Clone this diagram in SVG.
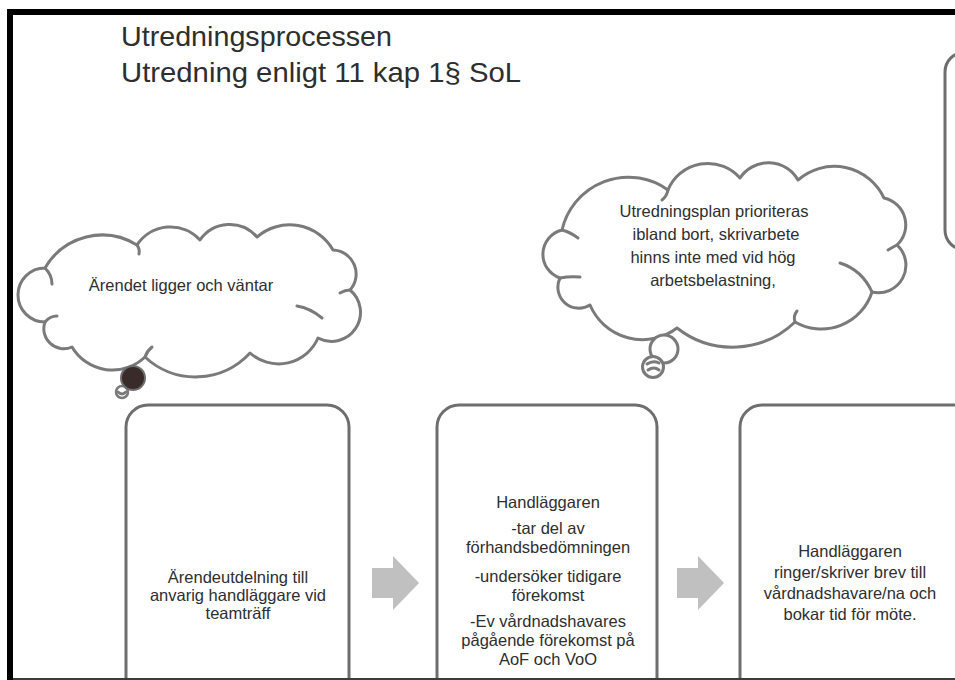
<svg xmlns="http://www.w3.org/2000/svg" width="955" height="680" viewBox="0 0 955 680">
<style>
  .title { font-family: "Liberation Sans", Arial, sans-serif; font-size: 28.5px; fill: #2e2e2e; }
  .txt { font-family: "Liberation Sans", Arial, sans-serif; font-size: 16.5px; fill: #2e2e2e; text-anchor: middle; }
  .cloud { fill: #ffffff; stroke: #7a7a7a; stroke-width: 3; stroke-linejoin: round; }
  .hook { fill: none; stroke: #7a7a7a; stroke-width: 3; stroke-linecap: round; }
  .box { fill: #ffffff; stroke: #6e6e6e; stroke-width: 3; }
  .arrow { fill: #c0c0c0; stroke: none; }
</style>
<rect x="0" y="0" width="955" height="680" fill="#ffffff"/>

<g id="title">
  <text class="title" x="121" y="46" textLength="271" lengthAdjust="spacingAndGlyphs">Utredningsprocessen</text>
  <text class="title" x="121" y="82" textLength="400" lengthAdjust="spacingAndGlyphs">Utredning enligt 11 kap 1§ SoL</text>
</g>

<g id="cloud1">
  <path class="cloud" d="M45 268 A66 66 0 0 1 137 245 A40 40 0 0 1 200 240 A36 36 0 0 1 257 237 A50 50 0 0 1 333 250 A24 24 0 0 1 350 290 A29 29 0 0 1 318 338 A43 43 0 0 1 250 353 A74 74 0 0 1 145 357 A47 47 0 0 1 72 347 A20 20 0 0 1 45 322 A27 27 0 0 1 45 268 Z"/>
  <path class="hook" d="M45 268 Q52 275 52 284"/>
  <path class="hook" d="M137 245 Q140 249 139 254"/>
  <path class="hook" d="M350 290 Q345 290 340 293"/>
  <path class="hook" d="M322 318 Q310 308 297 306"/>
  <path class="hook" d="M145 357 Q147 351 152 347"/>
  <path class="hook" d="M45 322 Q50 316 57 316"/>
  <text class="txt" x="181" y="291">Ärendet ligger och väntar</text>
  <circle cx="122" cy="392" r="6" fill="#ffffff" stroke="#7a7a7a" stroke-width="2.5"/>
  <path class="hook" d="M118 392 Q122 396 126 392" stroke-width="2"/>
  <circle cx="133" cy="378" r="12" fill="#3a2b2b" stroke="#6e6e6e" stroke-width="2"/>
</g>

<g id="cloud2">
  <path class="cloud" d="M562 230 A68 68 0 0 1 668 190 A43 43 0 0 1 740 178 A34 34 0 0 1 798 180 A55 55 0 0 1 884 198 A27.5 27.5 0 0 1 897 245 A27.5 27.5 0 0 1 872 292 A53 53 0 0 1 795 322 A90 90 0 0 1 677 328 A57 57 0 0 1 590 305 A21 21 0 0 1 560 278 A25 25 0 0 1 562 230 Z"/>
  <path class="hook" d="M562 230 Q570 232 578 238"/>
  <path class="hook" d="M668 190 Q667 196 662 200"/>
  <path class="hook" d="M897 245 Q893 247 888 250"/>
  <path class="hook" d="M872 292 Q862 270 840 263"/>
  <path class="hook" d="M560 278 Q570 276 580 277"/>
  <path class="hook" d="M795 322 Q793 316 797 311"/>
  <text class="txt" x="714" y="217">Utredningsplan prioriteras</text>
  <text class="txt" x="716" y="240">ibland bort, skrivarbete</text>
  <text class="txt" x="713" y="263">hinns inte med vid hög</text>
  <text class="txt" x="713" y="286">arbetsbelastning,</text>
  <circle cx="664" cy="349" r="14" fill="#ffffff" stroke="#7a7a7a" stroke-width="3"/>
  <circle cx="653" cy="367" r="10.5" fill="#ffffff" stroke="#7a7a7a" stroke-width="3"/>
  <path class="hook" d="M647 364 Q653 360 659 363" stroke-width="2.5"/>
  <path class="hook" d="M648 370 Q654 366 659 370" stroke-width="2.5"/>
</g>

<g id="box-topright">
  <rect class="box" x="945" y="52" width="60" height="198" rx="20" ry="20"/>
</g>

<g id="box1">
  <rect class="box" x="126" y="405" width="223" height="320" rx="22" ry="22"/>
  <text class="txt" x="238" y="583">Ärendeutdelning till</text>
  <text class="txt" x="238" y="601">anvarig handläggare vid</text>
  <text class="txt" x="238" y="619">teamträff</text>
</g>

<g id="box2">
  <rect class="box" x="437" y="405" width="220" height="320" rx="22" ry="22"/>
  <text class="txt" x="548" y="508">Handläggaren</text>
  <text class="txt" x="548" y="534">-tar del av</text>
  <text class="txt" x="548" y="553">förhandsbedömningen</text>
  <text class="txt" x="548" y="582">-undersöker tidigare</text>
  <text class="txt" x="548" y="601">förekomst</text>
  <text class="txt" x="548" y="627">-Ev vårdnadshavares</text>
  <text class="txt" x="548" y="646">pågående förekomst på</text>
  <text class="txt" x="548" y="665">AoF och VoO</text>
</g>

<g id="box3">
  <rect class="box" x="740" y="405" width="260" height="320" rx="22" ry="22"/>
  <text class="txt" x="850" y="557">Handläggaren</text>
  <text class="txt" x="850" y="578">ringer/skriver brev till</text>
  <text class="txt" x="850" y="599">vårdnadshavare/na och</text>
  <text class="txt" x="850" y="620">bokar tid för möte.</text>
</g>

<g id="connectors">
  <polygon class="arrow" points="372,568 393,568 393,556 419,583 393,610 393,598 372,598"/>
  <polygon class="arrow" points="677,568 698,568 698,556 724,583 698,610 698,598 677,598"/>
</g>

<g id="frame">
  <rect x="10" y="12" width="960" height="700" fill="none" stroke="#000000" stroke-width="6"/>
  <line x1="13" y1="679" x2="955" y2="679" stroke="#3c3c3c" stroke-width="2"/>
</g>
</svg>
